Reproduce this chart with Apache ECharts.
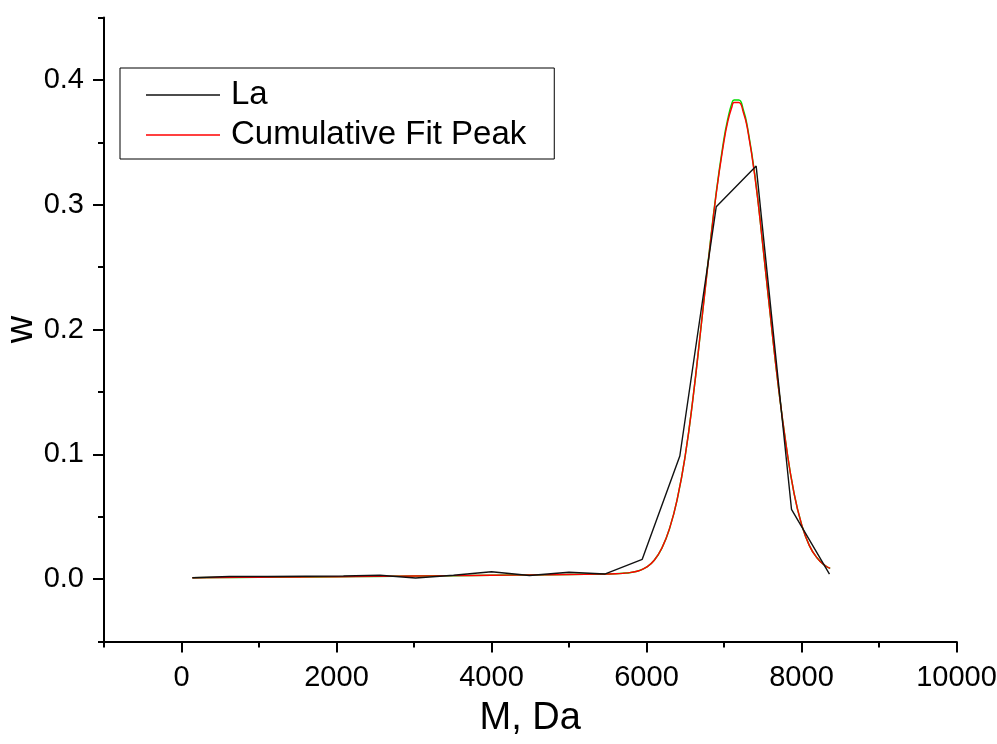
<!DOCTYPE html>
<html>
<head>
<meta charset="utf-8">
<script src="https://cdn.jsdelivr.net/npm/echarts@6/dist/echarts.min.js"></script>
<style>
html,body{margin:0;padding:0;background:#fff;}
#chart{width:997px;height:744px;}
</style>
</head>
<body>
<div id="chart"></div>
<script>
// Measured data "La"
const laX = [140, 620, 1110, 1600, 2090, 2560, 3020, 3510, 4000, 4490, 5000, 5460, 5945, 6430, 6900, 7415, 7871, 8361];
const laY = [0.001, 0.002, 0.002, 0.0022, 0.0024, 0.003, 0.0008, 0.003, 0.0058, 0.0028, 0.0054, 0.004, 0.0158, 0.0986, 0.2984, 0.331, 0.0559, 0.004];

// Cumulative fit peak
const fitX = [140, 500, 1000, 1500, 2000, 2500, 3000, 3500, 4000, 4500, 5000, 5400, 5600, 5700, 5800, 5900, 6000, 6100, 6200, 6300, 6400, 6500, 6600, 6700, 6800, 6900, 7000, 7050, 7100, 7130, 7190, 7250, 7300, 7400, 7500, 7600, 7700, 7800, 7900, 8000, 8100, 8200, 8300, 8370];
const fitY = [0.0010, 0.0012, 0.0014, 0.0016, 0.0018, 0.0021, 0.0024, 0.0027, 0.0030, 0.0033, 0.0036, 0.0039, 0.0042, 0.0046, 0.0053, 0.0066, 0.0095, 0.0150, 0.025, 0.041, 0.065, 0.099, 0.145, 0.200, 0.256, 0.309, 0.351, 0.367, 0.378, 0.382, 0.382, 0.374, 0.362, 0.322, 0.268, 0.210, 0.155, 0.108, 0.070, 0.044, 0.027, 0.017, 0.011, 0.0085];
// Individual fit peak (green, mostly hidden under the red curve)
const peakY = [0.0010, 0.0012, 0.0014, 0.0016, 0.0018, 0.0021, 0.0024, 0.0027, 0.0030, 0.0033, 0.0036, 0.0039, 0.0042, 0.0046, 0.0053, 0.0066, 0.0095, 0.0150, 0.025, 0.041, 0.065, 0.099, 0.145, 0.200, 0.257, 0.310, 0.353, 0.369, 0.381, 0.384, 0.384, 0.376, 0.363, 0.323, 0.268, 0.210, 0.155, 0.108, 0.070, 0.044, 0.027, 0.017, 0.011, 0.0085];

// Axis ticks
const xMajorTicks = [0, 2000, 4000, 6000, 8000, 10000];
const xMinorTicks = [-1000, 1000, 3000, 5000, 7000, 9000];
const yMajorTicks = [0, 0.1, 0.2, 0.3, 0.4];
const yMinorTicks = [-0.05, 0.05, 0.15, 0.25, 0.35, 0.45];

const FONT = 'Liberation Sans, Arial, sans-serif';
const zip = (xs, ys) => xs.map((x, i) => [x, ys[i]]);

const chart = echarts.init(document.getElementById('chart'), null, {renderer: 'canvas'});
const axisLine = {show: true, onZero: false, lineStyle: {color: '#000', width: 2}};
chart.setOption({
  backgroundColor: '#ffffff',
  animation: false,
  grid: {left: 104, right: 40.5, top: 17.6, bottom: 102.6, containLabel: false, outerBoundsMode: 'none'},
  legend: {
    orient: 'vertical',
    left: 120, top: 68,
    padding: [9, 28, 6, 26],
    borderColor: '#000', borderWidth: 1,
    itemWidth: 74, itemHeight: 1.5, itemGap: 4,
    textStyle: {fontFamily: FONT, fontSize: 33, color: '#000', lineHeight: 36, padding: [0, 0, 0, 6]},
    data: [
      {name: 'La', icon: 'rect', itemStyle: {color: '#111'}},
      {name: 'Cumulative Fit Peak', icon: 'rect', itemStyle: {color: '#ff0000'}}
    ]
  },
  xAxis: [{
    type: 'value', min: -1000, max: 10000, position: 'bottom',
    name: 'M, Da', nameLocation: 'middle', nameGap: 58, nameMoveOverlap: false,
    nameTextStyle: {fontFamily: FONT, fontSize: 38, color: '#000'},
    axisLine: axisLine,
    axisTick: {show: true, length: 11, lineStyle: {color: '#000', width: 2}, customValues: xMajorTicks},
    axisLabel: {show: true, customValues: xMajorTicks, margin: 22, fontFamily: FONT, fontSize: 29, color: '#000',
      formatter: v => String(v)},
    splitLine: {show: false}
  }, {
    type: 'value', min: -1000, max: 10000, position: 'bottom',
    axisLine: {show: false, onZero: false},
    axisTick: {show: true, length: 6, lineStyle: {color: '#000', width: 2}, customValues: xMinorTicks},
    axisLabel: {show: false},
    splitLine: {show: false}
  }],
  yAxis: [{
    type: 'value', min: -0.05, max: 0.45, position: 'left',
    name: 'w', nameLocation: 'middle', nameGap: 63, nameRotate: 90, nameMoveOverlap: false,
    nameTextStyle: {fontFamily: FONT, fontSize: 38, color: '#000'},
    axisLine: axisLine,
    axisTick: {show: true, length: 11, lineStyle: {color: '#000', width: 2}, customValues: yMajorTicks},
    axisLabel: {show: true, customValues: yMajorTicks, margin: 20, fontFamily: FONT, fontSize: 29, color: '#000',
      formatter: v => v.toFixed(1)},
    splitLine: {show: false}
  }, {
    type: 'value', min: -0.05, max: 0.45, position: 'left',
    axisLine: {show: false, onZero: false},
    axisTick: {show: true, length: 6, lineStyle: {color: '#000', width: 2}, customValues: yMinorTicks},
    axisLabel: {show: false},
    splitLine: {show: false}
  }],
  series: [{
    name: 'Fit Peak 1', type: 'line', xAxisIndex: 0, yAxisIndex: 0,
    data: zip(fitX, peakY), symbol: 'none', smooth: true,
    lineStyle: {color: '#00dd00', width: 1.5}, itemStyle: {color: '#00dd00'}, z: 1
  }, {
    name: 'La', type: 'line', xAxisIndex: 0, yAxisIndex: 0,
    data: zip(laX, laY), symbol: 'none',
    lineStyle: {color: '#111', width: 1.4}, itemStyle: {color: '#111'}, z: 3
  }, {
    name: 'Cumulative Fit Peak', type: 'line', xAxisIndex: 0, yAxisIndex: 0,
    data: zip(fitX, fitY), symbol: 'none', smooth: true,
    lineStyle: {color: '#ff0000', width: 1.4}, itemStyle: {color: '#ff0000'}, z: 2
  }]
});
</script>
</body>
</html>
